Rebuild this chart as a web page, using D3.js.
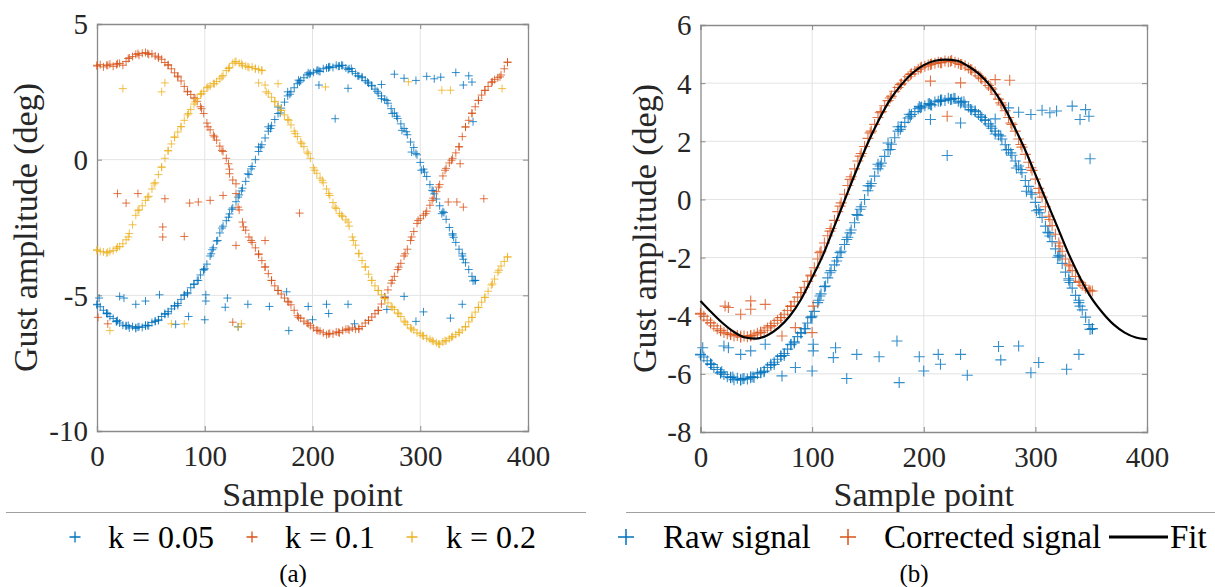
<!DOCTYPE html>
<html><head><meta charset="utf-8">
<script src="https://cdn.jsdelivr.net/npm/d3@7"></script>
<style>html,body{margin:0;padding:0;background:#fff;} svg{display:block;}</style>
</head><body>
<svg id="chart" width="1215" height="587"></svg>
<script>
// ---------- DATA ----------
// Raw signal (= k = 0.05): dense reading along the trail, one value every 3 samples (0..351)
const rawDenseValues = [-5.35,-5.42,-5.55,-5.65,-5.78,-5.85,-5.97,-6.02,-6.10,-6.12,-6.20,-6.15,-6.22,-6.16,-6.18,-6.10,-6.12,-6.00,-5.95,-5.90,
  -5.78,-5.70,-5.60,-5.50,-5.40,-5.30,-5.15,-5.00,-4.90,-4.72,-4.60,-4.45,-4.25,-4.05,-3.85,-3.55,-3.25,-3.00,-2.70,-2.45,
  -2.25,-2.00,-1.78,-1.55,-1.30,-1.05,-0.80,-0.55,-0.25,0.00,0.30,0.55,0.80,1.05,1.25,1.48,1.70,1.90,2.12,2.35,
  2.50,2.65,2.80,2.92,3.02,3.12,3.18,3.22,3.28,3.25,3.35,3.38,3.42,3.40,3.48,3.45,3.47,3.38,3.35,3.25,
  3.18,3.08,3.02,2.92,2.82,2.72,2.60,2.45,2.35,2.22,2.08,1.88,1.72,1.52,1.32,1.15,0.92,0.65,0.45,0.18,
  -0.10,-0.35,-0.62,-0.92,-1.15,-1.45,-1.70,-1.92,-2.20,-2.50,-2.78,-3.05,-3.30,-3.55,-3.80,-4.05,-4.30,-4.45];
// Raw signal: extra readings at other sample points
const rawSamples = [0,9,18,27,36,45,54,63,72,81,90,99,107,116,125,134,143,152,161,170,179,188,197,206,215,224,233,242,251,260,269,278,287,296,304,313,322,331,340,349,
  10,19,29,38,47,57,66,75,84,94,100,106,112,122,131,140,150,159,168,177,187,196,205,215,227,236,246,255,264,274,283,292,301,311,320,330,339,351];
const rawValues = [-5.33,-5.67,-5.96,-6.13,-6.19,-6.13,-5.96,-5.67,-5.38,-4.98,-4.58,-4.07,-3.32,-2.52,-1.83,-1.15,-0.34,0.46,1.15,1.72,2.41,2.86,3.15,3.26,3.38,3.44,3.32,3.09,2.86,2.52,2.18,1.60,1.03,0.23,-0.46,-1.26,-1.95,-2.86,-3.67,-4.47,
  -5.68,-5.93,-6.11,-6.17,-6.11,-5.93,-5.68,-5.37,-4.94,-4.45,-4.02,-3.47,-2.98,-2.12,-1.38,-0.52,0.47,1.21,1.94,2.50,2.93,3.20,3.30,3.42,3.48,3.36,3.05,2.74,2.25,1.70,1.08,0.28,-0.39,-1.13,-1.99,-2.73,-3.47,-4.45];
// Raw signal: stray points
const rawOutSamples = [2,21,25,36,45,58,73,85,100,101,101,119,121,131,140,160,176,178,196,200,213,215,233,239,267,269,285,296,303,328,339,
  206,221,233,264,276,285,296,306,313,319,333,340,345,348,349];
const rawOutValues = [-5.10,-5.04,-5.10,-5.33,-5.21,-4.98,-6.07,-5.78,-5.90,-4.98,-5.21,-5.44,-5.10,-6.16,-5.33,-5.41,-4.87,-6.30,-5.41,-5.90,-5.33,-5.67,-5.33,-6.05,-5.06,-5.52,-5.04,-5.96,-5.61,-5.84,-5.33,
  2.75,1.51,2.63,2.77,3.15,3.00,2.92,3.07,2.98,3.04,3.21,2.75,3.09,2.86,1.40];

// k = 0.1: one value every 3 samples (0..381)
const k01DenseValues = [3.45,3.50,3.42,3.48,3.52,3.44,3.50,3.55,3.48,3.62,3.75,3.80,3.88,3.85,3.92,3.95,3.88,3.90,3.82,3.75,
  3.70,3.58,3.50,3.35,3.20,3.08,2.90,2.70,2.52,2.40,2.28,2.15,1.95,1.70,1.35,1.10,0.90,0.72,0.50,0.30,
  0.05,-0.35,-0.75,-1.25,-1.85,-2.30,-2.60,-2.85,-3.05,-3.25,-3.50,-3.72,-3.95,-4.20,-4.45,-4.65,-4.82,-4.95,-5.10,-5.22,
  -5.35,-5.55,-5.75,-5.85,-5.95,-6.02,-6.12,-6.20,-6.28,-6.32,-6.38,-6.45,-6.40,-6.42,-6.35,-6.38,-6.30,-6.25,-6.28,-6.20,
  -6.25,-6.22,-6.15,-6.02,-5.92,-5.80,-5.68,-5.55,-5.32,-5.08,-4.80,-4.55,-4.30,-4.05,-3.82,-3.55,-3.30,-2.98,-2.65,-2.35,
  -2.18,-2.05,-1.90,-1.68,-1.42,-1.18,-0.92,-0.60,-0.32,-0.12,0.05,0.25,0.48,0.85,1.20,1.45,1.72,1.95,2.18,2.38,
  2.55,2.70,2.85,2.95,3.02,3.12,3.35,3.58];
// k = 0.1: other readings and stray points
const k01Samples = [0,10,19,29,38,47,57,66,75,84,91,97,103,109,116,122,123,131,136,143,150,156,162,168,178,187,196,205,215,224,233,243,252,261,267,274,280,286,292,298,305,311,317,323,329,336,342,348,354,360,367,374,381,
  19,27,38,63,61,61,81,86,94,105,117,129,129,156,188,337,359,326,334,340,10,1,126];
const k01Values = [3.48,3.48,3.54,3.73,3.91,3.91,3.79,3.48,3.05,2.50,2.25,1.88,1.21,0.84,0.34,-0.15,-0.52,-1.75,-2.48,-2.98,-3.47,-3.96,-4.45,-4.82,-5.25,-5.81,-6.05,-6.30,-6.42,-6.36,-6.24,-6.24,-5.93,-5.56,-5.07,-4.45,-3.96,-3.47,-2.85,-2.24,-1.99,-1.50,-1.01,-0.39,-0.02,0.47,1.21,1.70,2.19,2.56,2.87,3.05,3.60,
  -1.25,-1.60,-1.25,-1.44,-2.48,-2.85,-2.83,-1.60,-1.56,-1.50,-1.32,-0.89,-3.16,-2.98,-1.97,-0.15,-1.44,-1.56,-1.56,-1.75,-6.05,-5.81,-5.99];

// k = 0.2: one value every 3 samples (0..381)
const k02DenseValues = [-3.32,-3.38,-3.40,-3.44,-3.38,-3.35,-3.28,-3.20,-3.10,-2.95,-2.72,-2.40,-2.05,-1.85,-1.70,-1.50,-1.35,-1.08,-0.85,-0.55,
  -0.28,0.05,0.32,0.58,0.82,1.02,1.22,1.45,1.65,1.85,2.05,2.25,2.40,2.52,2.65,2.72,2.80,2.88,2.98,3.10,
  3.28,3.40,3.55,3.62,3.55,3.48,3.45,3.40,3.42,3.35,3.32,3.28,2.75,2.45,2.30,2.15,1.98,1.82,1.65,1.48,
  1.28,1.05,0.85,0.65,0.48,0.28,0.05,-0.30,-0.50,-0.68,-0.85,-1.08,-1.32,-1.58,-1.80,-1.98,-2.10,-2.22,-2.45,-2.85,
  -3.15,-3.45,-3.72,-3.95,-4.22,-4.45,-4.65,-4.82,-4.98,-5.12,-5.28,-5.42,-5.52,-5.65,-5.78,-5.95,-6.08,-6.20,-6.28,-6.38,
  -6.42,-6.50,-6.58,-6.62,-6.70,-6.75,-6.80,-6.72,-6.68,-6.60,-6.52,-6.45,-6.38,-6.28,-6.15,-5.98,-5.82,-5.62,-5.45,-5.25,
  -5.08,-4.85,-4.62,-4.40,-4.15,-3.92,-3.75,-3.58];
// k = 0.2: other readings and stray points
const k02Samples = [0,10,19,29,38,47,53,60,66,72,78,85,91,97,103,109,116,122,128,134,140,147,153,157,165,171,178,184,190,196,202,209,215,221,227,233,238,243,249,255,261,267,274,280,286,292,302,311,317,323,329,336,342,348,354,360,367,373,381,
  24,60,63,150,168,212,289,320,328,376,12,69,81,134,131];
const k02Values = [-3.35,-3.41,-3.22,-2.85,-1.87,-1.38,-0.89,-0.27,0.34,0.84,1.21,1.70,2.13,2.44,2.68,2.80,3.05,3.36,3.60,3.54,3.42,3.36,3.30,2.50,2.13,1.82,1.45,0.96,0.59,0.22,-0.39,-0.76,-1.25,-1.75,-2.05,-2.30,-2.98,-3.47,-3.96,-4.45,-4.82,-5.13,-5.44,-5.68,-5.99,-6.24,-6.48,-6.67,-6.79,-6.67,-6.54,-6.36,-6.17,-5.81,-5.44,-5.07,-4.58,-4.08,-3.59,
  2.62,2.50,2.83,2.83,2.80,2.68,2.87,2.56,2.56,2.62,-6.30,-6.05,-6.05,-6.05,-6.17];

// Corrected signal: one value every 3 samples (0..351)
const corrDenseValues = [-3.92,-4.02,-4.15,-4.25,-4.35,-4.45,-4.50,-4.58,-4.62,-4.65,-4.70,-4.68,-4.74,-4.70,-4.72,-4.68,-4.66,-4.60,-4.56,-4.50,
  -4.42,-4.35,-4.26,-4.16,-4.06,-3.95,-3.82,-3.68,-3.52,-3.36,-3.20,-3.02,-2.82,-2.60,-2.35,-2.05,-1.78,-1.50,-1.25,-1.00,
  -0.72,-0.42,-0.12,0.18,0.48,0.78,1.05,1.32,1.58,1.82,2.10,2.35,2.58,2.82,3.02,3.22,3.40,3.55,3.72,3.85,
  3.98,4.10,4.22,4.32,4.40,4.48,4.55,4.58,4.62,4.66,4.68,4.72,4.70,4.76,4.74,4.78,4.72,4.68,4.64,4.60,
  4.52,4.45,4.38,4.25,4.15,4.05,3.92,3.80,3.62,3.45,3.25,3.05,2.82,2.58,2.35,2.08,1.80,1.55,1.28,1.00,
  0.70,0.38,0.08,-0.25,-0.58,-0.90,-1.20,-1.50,-1.78,-2.05,-2.25,-2.45,-2.65,-2.82,-2.95,-3.05,-3.12,-3.15];
// Corrected signal: other readings and stray points
const corrSamples = [0,9,18,27,36,45,54,63,72,81,90,99,107,116,125,134,143,152,161,170,179,188,197,206,215,224,233,242,251,260,269,278,287,296,304,313,322,331,340,349,
  22,25,36,45,45,58,73,85,101,100,206,221,233,264,277];
const corrValues = [-3.95,-4.24,-4.52,-4.64,-4.70,-4.70,-4.58,-4.35,-4.07,-3.67,-3.21,-2.63,-1.83,-1.09,-0.23,0.69,1.49,2.29,2.98,3.49,3.95,4.30,4.52,4.64,4.70,4.75,4.64,4.47,4.18,3.84,3.32,2.63,1.89,1.09,0.23,-0.69,-1.60,-2.29,-2.86,-3.15,
  -3.67,-3.72,-3.95,-3.49,-3.78,-3.61,-4.70,-4.41,-3.67,-4.58,4.07,2.86,4.01,4.12,4.10];

// Fit curve
const fitSamples = [0,10,20,30,40,50,60,70,80,90,100,110,120,130,140,150,160,170,180,190,200,210,220,230,240,250,260,270,280,290,300,310,320,330,340,350,360,370,380,390,400];
const fitValues = [-3.49,-3.89,-4.26,-4.56,-4.75,-4.79,-4.67,-4.41,-4.01,-3.44,-2.69,-1.89,-0.92,0.06,1.03,1.95,2.75,3.44,3.95,4.35,4.62,4.77,4.81,4.77,4.58,4.30,3.89,3.32,2.58,1.78,0.86,-0.06,-0.97,-1.89,-2.69,-3.38,-3.89,-4.30,-4.58,-4.75,-4.81];

// Ticks / labels
const xTicks = [0,100,200,300,400];
const yTicksA = [-10,-5,0,5];
const yTicksB = [-8,-6,-4,-2,0,2,4,6];
const legendA = ["k = 0.05","k = 0.1","k = 0.2"];
const legendB = ["Raw signal","Corrected signal","Fit"];
const colors = ["#0072BD","#D95319","#EDB120"];

// ---------- DRAW ----------
const svg = d3.select("#chart");
const FONT = "'Liberation Serif', 'Times New Roman', serif";
const zip = (a,b) => a.map((s,i)=>[s,b[i]]);
const dense = (vals) => vals.map((v,i)=>[i*3, v]);

const rawPts = dense(rawDenseValues).concat(zip(rawSamples,rawValues), zip(rawOutSamples,rawOutValues));
const k01Pts = dense(k01DenseValues).concat(zip(k01Samples,k01Values));
const k02Pts = dense(k02DenseValues).concat(zip(k02Samples,k02Values));
const corrPts = dense(corrDenseValues).concat(zip(corrSamples,corrValues));

function txt(sel, size, fill){
  return sel.style("font-family",FONT).style("font-size",size+"px").attr("fill",fill||"#262626");
}

function panel(opt){
  const {x0,x1,y0,y1,yDomain,yTicks} = opt;
  const x = d3.scaleLinear().domain([0,400]).range([x0,x1]);
  const y = d3.scaleLinear().domain(yDomain).range([y1,y0]);
  const g = svg.append("g");
  g.append("g").selectAll("line").data(xTicks.slice(1,-1)).join("line")
    .attr("x1",d=>x(d)).attr("x2",d=>x(d)).attr("y1",y0).attr("y2",y1)
    .attr("stroke","#e3e3e3").attr("stroke-width",1);
  g.append("g").selectAll("line").data(yTicks.slice(1,-1)).join("line")
    .attr("y1",d=>y(d)).attr("y2",d=>y(d)).attr("x1",x0).attr("x2",x1)
    .attr("stroke","#e3e3e3").attr("stroke-width",1);
  const ax = (gen, tr) => g.append("g").attr("transform",tr).call(gen);
  const fmt = d => String(d);
  const bottom = ax(d3.axisBottom(x).tickValues(xTicks).tickSize(-5).tickPadding(14).tickFormat(fmt), `translate(0,${y1})`);
  const left = ax(d3.axisLeft(y).tickValues(yTicks).tickSize(-5).tickPadding(9).tickFormat(fmt), `translate(${x0},0)`);
  const top = ax(d3.axisTop(x).tickValues(xTicks).tickSize(-5).tickFormat(""), `translate(0,${y0})`);
  const right = ax(d3.axisRight(y).tickValues(yTicks).tickSize(-5).tickFormat(""), `translate(${x1},0)`);
  [bottom,left,top,right].forEach(a=>{
    a.attr("font-family",null).attr("font-size",null);
    a.select(".domain").attr("stroke","#8a8a8a").attr("stroke-width",1.3);
    a.selectAll(".tick line").attr("stroke","#8a8a8a");
    txt(a.selectAll("text"), 29);
  });
  left.selectAll("text").attr("dy","0.34em");
  bottom.selectAll("text").attr("dy","0.72em");
  txt(g.append("text").attr("x",(x0+x1)/2).attr("y",506).attr("text-anchor","middle"), 34).text("Sample point");
  txt(g.append("text").attr("transform",`translate(${opt.ylabX},${(y0+y1)/2}) rotate(-90)`).attr("text-anchor","middle"), 34).text("Gust amplitude (deg)");
  return {g,x,y};
}

function plus(sel, pts, x, y, color, r, w){
  sel.append("g").selectAll("path").data(pts).join("path")
    .attr("d",d=>`M${x(d[0])-r},${y(d[1])}H${x(d[0])+r}M${x(d[0])},${y(d[1])-r}V${y(d[1])+r}`)
    .attr("stroke",color).attr("stroke-width",w).attr("stroke-opacity",0.8).attr("fill","none");
}

// Panel (a)
const A = panel({x0:97,x1:528,y0:24,y1:431,yDomain:[-10,5],yTicks:yTicksA,ylabX:37});
plus(A.g, rawPts, A.x, A.y, colors[0], 4, 1);
plus(A.g, k01Pts, A.x, A.y, colors[1], 4, 1);
plus(A.g, k02Pts, A.x, A.y, colors[2], 4, 1);

// Panel (b)
const B = panel({x0:700.5,x1:1147,y0:25,y1:432,yDomain:[-8,6],yTicks:yTicksB,ylabX:656});
plus(B.g, rawPts, B.x, B.y, colors[0], 5.5, 1.1);
plus(B.g, corrPts, B.x, B.y, colors[1], 5.5, 1.1);
B.g.append("path").datum(zip(fitSamples,fitValues))
  .attr("d", d3.line().x(d=>B.x(d[0])).y(d=>B.y(d[1])).curve(d3.curveMonotoneX))
  .attr("fill","none").attr("stroke","#000").attr("stroke-width",2.2);

// separators
svg.append("line").attr("x1",6).attr("x2",586).attr("y1",512.5).attr("y2",512.5).attr("stroke","#a0a0a0").attr("stroke-width",1);
svg.append("line").attr("x1",626).attr("x2",1215).attr("y1",512.5).attr("y2",512.5).attr("stroke","#a0a0a0").attr("stroke-width",1);

// legend (a)
const legA = svg.append("g");
const legAPlusX = [75,252,412], legATextX = [108,285,446];
legendA.forEach((t,i)=>{
  legA.append("path").attr("d",`M${legAPlusX[i]-5.5},537H${legAPlusX[i]+5.5}M${legAPlusX[i]},531.5V542.5`).attr("stroke",colors[i]).attr("stroke-width",1.3);
  txt(legA.append("text").attr("x",legATextX[i]).attr("y",548), 32, "#000").text(t);
});
// legend (b)
const legB = svg.append("g");
[[626,663],[848,884]].forEach(([px,tx],i)=>{
  legB.append("path").attr("d",`M${px-8},537H${px+8}M${px},529V545`).attr("stroke",colors[i]).attr("stroke-width",1.5);
  txt(legB.append("text").attr("x",tx).attr("y",548), 33, "#000").text(legendB[i]);
});
legB.append("line").attr("x1",1109).attr("x2",1168).attr("y1",537).attr("y2",537).attr("stroke","#000").attr("stroke-width",3);
txt(legB.append("text").attr("x",1170).attr("y",548), 33, "#000").text(legendB[2]);

// captions
txt(svg.append("text").attr("x",293).attr("y",582).attr("text-anchor","middle"), 25, "#000").text("(a)");
txt(svg.append("text").attr("x",914).attr("y",582).attr("text-anchor","middle"), 25, "#000").text("(b)");
</script>
</body></html>
